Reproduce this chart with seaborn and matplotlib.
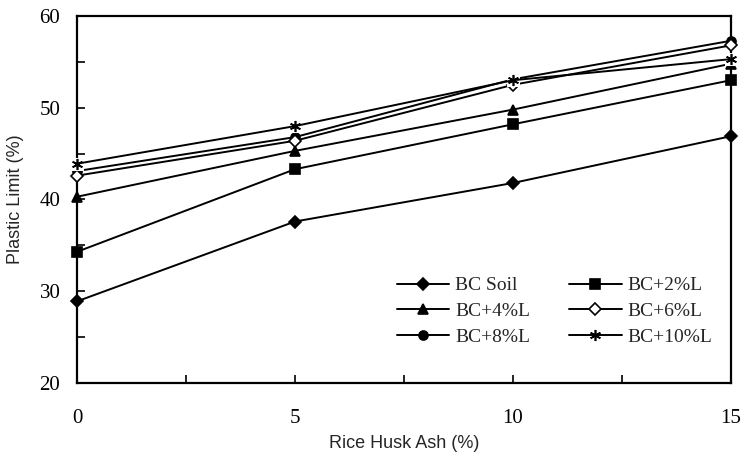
import matplotlib
matplotlib.use("Agg")
import matplotlib.pyplot as plt
import seaborn as sns
import pandas as pd
from matplotlib.ticker import MultipleLocator

rha = [0, 5, 10, 15]
bc_soil = [28.9, 37.6, 41.8, 46.9]
bc_2 = [34.3, 43.3, 48.2, 53.0]
bc_4 = [40.3, 45.3, 49.8, 54.8]
bc_6 = [42.6, 46.4, 52.5, 56.8]
bc_8 = [43.1, 46.8, 53.1, 57.3]
bc_10 = [43.9, 48.0, 53.0, 55.3]
labels = ["BC Soil", "BC+2%L", "BC+4%L", "BC+6%L", "BC+8%L", "BC+10%L"]
series = [bc_soil, bc_2, bc_4, bc_6, bc_8, bc_10]

sns.set_style("ticks")
plt.rcParams['font.family'] = ['Liberation Serif', 'DejaVu Serif']

markers = ['D', 's', '^', 'D', 'o', (6, 2, 0)]
msizes = [6, 6.5, 7.5, 6.5, 6.5, 8]
mfcs = ['black', 'black', 'black', 'white', 'black', 'black']
zorders = [4, 4, 4, 4, 3, 6]

fig = plt.figure(figsize=(7.46, 4.65), dpi=100)
ax = fig.add_axes([77/746, 1-383/465, (731-77)/746, (383-16)/465])

for lab, vals, m, ms, fc, z in zip(labels, series, markers, msizes, mfcs, zorders):
    df = pd.DataFrame({"x": rha, "y": vals})
    if lab == "BC+10%L":
        # white backing behind the star marker
        sns.lineplot(data=df, x="x", y="y", ax=ax, color='white', linewidth=0,
                     marker='s', markersize=8, markerfacecolor='white',
                     markeredgecolor='white', clip_on=False, zorder=5,
                     legend=False)
    sns.lineplot(data=df, x="x", y="y", ax=ax, color='black', linewidth=1.4,
                 marker=m, markersize=ms, markerfacecolor=fc,
                 markeredgecolor='black', markeredgewidth=1.2,
                 label=lab, clip_on=False, zorder=z)

ax.set_xlim(0, 15)
ax.set_ylim(20, 60)
ax.xaxis.set_major_locator(MultipleLocator(5))
ax.xaxis.set_minor_locator(MultipleLocator(2.5))
ax.yaxis.set_major_locator(MultipleLocator(10))
ax.yaxis.set_minor_locator(MultipleLocator(5))
ax.tick_params(which='both', direction='in', length=6, width=1.2, colors='black',
               top=False, right=False)
ax.tick_params(axis='y', which='major', labelsize=15, pad=12)
ax.tick_params(axis='x', which='major', labelsize=15, pad=19)
for s in ax.spines.values():
    s.set_linewidth(1.6)
    s.set_color('black')
    s.set_visible(True)

ax.set_xlabel("Rice Husk Ash (%)", family=['Liberation Sans'], fontsize=13, labelpad=5)
ax.set_ylabel("Plastic Limit (%)", family=['Liberation Sans'], fontsize=13, labelpad=11)

h, l = ax.get_legend_handles_labels()
order = [0, 2, 4, 1, 3, 5]
ax.legend([h[i] for i in order], [l[i] for i in order], ncol=2, frameon=False,
          loc='upper left', bbox_to_anchor=((389-77)/654, (383-269)/367),
          fontsize=14, handlelength=2.7, columnspacing=2.0, labelspacing=0.42,
          handletextpad=0.3, borderaxespad=0)

fig.savefig("out.png", dpi=100)
